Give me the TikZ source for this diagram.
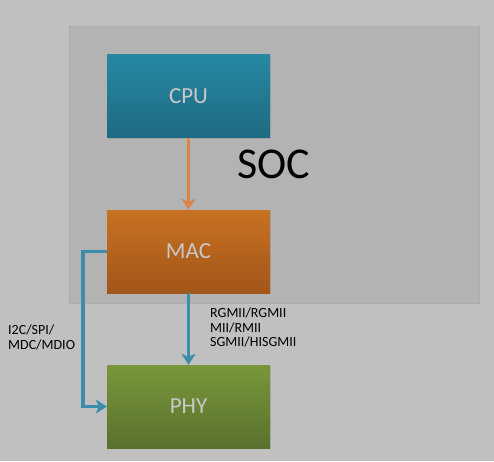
\documentclass[tikz,border=0pt]{standalone}
\usepackage{fontspec}
\setmainfont{Carlito}
\usetikzlibrary{shadows}
\usetikzlibrary{arrows.meta}
\usetikzlibrary{positioning}
\usetikzlibrary{calc}

\definecolor{pagegray}{HTML}{C0C0C0}
\definecolor{socgray}{HTML}{B3B3B3}
\definecolor{socedge}{HTML}{ADADAD}
\definecolor{cputop}{HTML}{2788A2}
\definecolor{cpubot}{HTML}{1E6B82}
\definecolor{mactop}{HTML}{C77122}
\definecolor{macbot}{HTML}{A3561A}
\definecolor{phytop}{HTML}{78973A}
\definecolor{phybot}{HTML}{58722E}
\definecolor{boxtext}{HTML}{C9C9C9}
\definecolor{linkblue}{HTML}{3B8DA9}
\definecolor{linkorange}{HTML}{D8844C}

\tikzset{
    block/.style={minimum width=163pt,minimum height=83pt,inner sep=0pt,
        text=boxtext,font=\fontsize{23}{27}\selectfont,
        drop shadow={shadow xshift=1pt,shadow yshift=-1pt,opacity=.25}},
    bluelink/.style={draw=linkblue,line width=3.4pt,
        -{Stealth[length=11pt,width=14pt,inset=3pt]}},
    orangelink/.style={draw=linkorange,line width=3.4pt,
        -{Stealth[length=11pt,width=14pt,inset=3pt]}},
    buslabel/.style={align=left,inner sep=0pt,
        font=\fontsize{14}{14.5}\selectfont}
}

\begin{document}
\begin{tikzpicture}[x=1pt,y=-1pt]
    % Page
    \fill [pagegray] (0,0) rectangle (494,461);
    \useasboundingbox (0,0) rectangle (494,461);
    % SOC frame
    \node (socbox) at (274,164.5) [draw=socedge,fill=socgray,
        minimum width=410pt,minimum height=277pt,inner sep=0pt,
        drop shadow={shadow xshift=1pt,shadow yshift=-1pt,opacity=.2}] {};
    \node (soclabel) at (273.5,164) [font=\fontsize{44}{48}\selectfont] {SOC};
    % Blocks
    \node (cpu) at (188.5,96) [block,top color=cputop,bottom color=cpubot] {CPU};
    \node (mac) at (188.5,251.5) [block,top color=mactop,bottom color=macbot] {MAC};
    \node (phy) at (188.5,406.5) [block,top color=phytop,bottom color=phybot] {PHY};
    % Links
    \draw [orangelink] (cpu) -- (mac);
    \draw [bluelink] (mac) -- (phy);
    \draw [bluelink] (mac.west) -- ++(-24,0) |- (phy.west);
    % Bus names
    \node (mgmt) at (8,325) [buslabel,anchor=north west]
        {I2C/SPI/\\MDC/MDIO};
    \node (mii) at (210,308) [buslabel,anchor=north west]
        {RGMII/RGMII\\MII/RMII\\SGMII/HISGMII};
\end{tikzpicture}
\end{document}
